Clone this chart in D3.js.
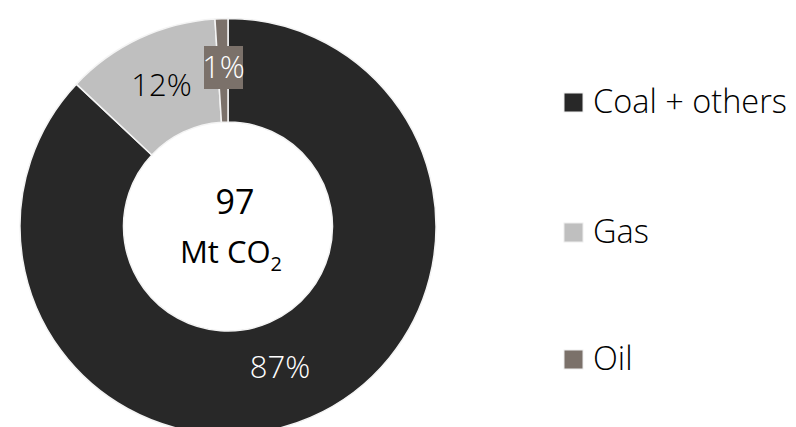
<!DOCTYPE html>
<html>
<head>
<meta charset="utf-8">
<script src="https://cdn.jsdelivr.net/npm/d3@7"></script>
<style>
  body { margin: 0; background: #fff; }
  text { font-family: "Open Sans", sans-serif; }
</style>
</head>
<body>
<script>
// du lieu - data
var categories = ["Coal + others", "Gas", "Oil"];
var shares = [87, 12, 1]; // phan tram
var colors = ["#282828", "#bfbfbf", "#7b716a"];
var total = "97";
var unit = "Mt CO";

var width = 796, height = 427;
var cx = 228, cy = 226.5, rOut = 208, rIn = 104.5;

var svg = d3.select("body").append("svg")
    .attr("width", width)
    .attr("height", height);

var data = categories.map(function(c, i) {
    return { name: c, value: shares[i], color: colors[i] };
});

var pie = d3.pie().sort(null).value(function(d) { return d.value; });
var arc = d3.arc().innerRadius(rIn).outerRadius(rOut);

var g = svg.append("g").attr("transform", "translate(" + cx + "," + cy + ")");

var arcs = pie(data);

g.selectAll("path")
    .data(arcs)
    .enter().append("path")
    .attr("d", arc)
    .style("fill", function(d) { return d.data.color; })
    .style("stroke", "#f4f4f4")
    .style("stroke-width", 1.5);

// nhan phan tram - slice labels
arcs.forEach(function(d, i) {
    var c = arc.centroid(d);
    var x, y;
    if (i === 0) { x = 52; y = 141; }
    else if (i === 1) { x = c[0]; y = c[1]; }
    else { x = -4.5; y = -159; }
    var lg = g.append("g").attr("transform", "translate(" + x + "," + y + ")");
    if (i === 2) {
        lg.append("rect")
            .attr("x", -19.5).attr("y", -21.5)
            .attr("width", 39).attr("height", 43)
            .style("fill", d.data.color);
    }
    lg.append("text")
        .attr("text-anchor", "middle")
        .attr("dy", "0.35em")
        .style("font-size", "31px")
        .style("font-weight", 300)
        .style("fill", i === 1 ? "#000" : "#fff")
        .text(d.data.value + "%");
});

// chu o giua - center text
g.append("text")
    .attr("x", 7).attr("y", -13)
    .attr("text-anchor", "middle")
    .style("font-size", "34px")
    .style("fill", "#000")
    .text(total);

var t = g.append("text")
    .attr("x", 3).attr("y", 36)
    .attr("text-anchor", "middle")
    .style("font-size", "31px")
    .style("fill", "#000");
t.append("tspan").text(unit);
t.append("tspan").attr("dy", 8).style("font-size", "20px").text("2");

// chu thich - legend
var legend = svg.append("g").attr("class", "legend");
var legendY = [113, 243, 370];
var item = legend.selectAll("g")
    .data(data)
    .enter().append("g")
    .attr("transform", function(d, i) { return "translate(564," + legendY[i] + ")"; });

item.append("rect")
    .attr("x", 0).attr("y", -20)
    .attr("width", 19).attr("height", 19)
    .style("fill", function(d) { return d.color; })
    .style("stroke", "#eee")
    .style("stroke-width", 1);

item.append("text")
    .attr("x", 29).attr("y", 0)
    .style("font-size", "32.5px")
    .style("font-weight", 300)
    .style("fill", "#000")
    .text(function(d) { return d.name; });
</script>
</body>
</html>
